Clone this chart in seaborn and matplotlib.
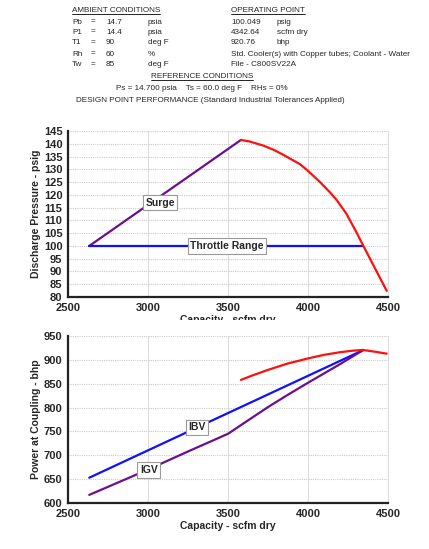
import numpy as np
import pandas as pd
import matplotlib
matplotlib.use("Agg")
import matplotlib.pyplot as plt
import seaborn as sns
from matplotlib.ticker import MultipleLocator
from matplotlib.lines import Line2D
from matplotlib.patches import Rectangle

#Chart data

# top panel - discharge pressure
surge_cap = [2633, 3581]
surge_psig = [100.0, 141.5]
throttle_cap = [2633, 4342]
throttle_psig = [100.0, 100.0]
curve_cap = [3581, 3635, 3720, 3783, 3845, 3950, 4000, 4075, 4137,
             4179, 4240, 4304, 4346, 4429, 4492]
curve_psig = [141.5, 140.9, 139.3, 137.7, 135.7, 132.0, 129.4, 125.0, 121.0,
              118.0, 112.6, 105.2, 100.0, 90.0, 82.4]

# bottom panel - power at coupling
ibv_cap = [2633, 4342]
ibv_bhp = [653, 920]
igv_cap = [2633, 3000, 3250, 3500, 3620, 3750, 3870, 4000, 4200, 4342]
igv_bhp = [617, 670, 708, 745, 772, 801, 826, 852, 891, 920]
red_cap = [3581, 3650, 3750, 3870, 4000, 4100, 4200, 4280, 4342, 4420, 4492]
red_bhp = [858, 867, 879, 892, 903, 910.5, 916, 919.2, 920.8, 917, 913]

x_ticks = [2500, 3000, 3500, 4000, 4500]
top_yticks = list(range(80, 150, 5))
bot_yticks = list(range(600, 1000, 50))

ambient_rows = [
    ("Pb", "14.7", "psia"),
    ("P1", "14.4", "psia"),
    ("T1", "90", "deg F"),
    ("Rh", "60", "%"),
    ("Tw", "85", "deg F"),
]
operating_rows = [
    ("100.049", "psig"),
    ("4342.64", "scfm dry"),
    ("920.76", "bhp"),
    ("Std. Cooler(s) with Copper tubes; Coolant - Water", ""),
    ("File - C800SV22A", ""),
]

PURPLE = "#6b0f8c"
RED = "#ff1010"
BLUE = "#1010ff"

sns.set_style("white")
plt.rcParams["font.family"] = ["Liberation Sans", "DejaVu Sans"]

W, H = 429, 549
fig = plt.figure(figsize=(W / 100, H / 100), dpi=100)


def px(x, y):
    # pixel position (from top-left) -> figure fraction
    return x / W, 1 - y / H


#Header block
hdr_size = 5.9
underline = []
t = fig.text(*px(72, 10), "AMBIENT CONDITIONS", fontsize=hdr_size, va="center")
underline.append(t)
t = fig.text(*px(231, 10), "OPERATING POINT", fontsize=hdr_size, va="center")
underline.append(t)

row_y = [22, 32, 43, 54, 65]
for y, (name, val, unit), (oval, ounit) in zip(row_y, ambient_rows, operating_rows):
    fig.text(*px(72, y), name, fontsize=hdr_size, va="center")
    fig.text(*px(91, y), "=", fontsize=hdr_size, va="center")
    fig.text(*px(106, y), val, fontsize=hdr_size, va="center")
    fig.text(*px(148, y), unit, fontsize=hdr_size, va="center")
    fig.text(*px(231, y), oval, fontsize=hdr_size, va="center")
    if ounit:
        fig.text(*px(277, y), ounit, fontsize=hdr_size, va="center")

t = fig.text(*px(202, 76.5), "REFERENCE CONDITIONS", fontsize=hdr_size, va="center", ha="center")
underline.append(t)
fig.text(*px(202, 88), "Ps = 14.700 psia    Ts = 60.0 deg F    RHs = 0%",
         fontsize=hdr_size, va="center", ha="center")
fig.text(*px(210, 100), "DESIGN POINT PERFORMANCE (Standard Industrial Tolerances Applied)",
         fontsize=hdr_size, va="center", ha="center")

#Axes
ax1 = fig.add_axes([68 / W, 1 - 297 / H, 320 / W, 166 / H])
ax2 = fig.add_axes([68 / W, 1 - 503 / H, 320 / W, 167 / H])

top_df = pd.concat([
    pd.DataFrame({"cap": surge_cap, "val": surge_psig, "line": "surge"}),
    pd.DataFrame({"cap": throttle_cap, "val": throttle_psig, "line": "throttle"}),
    pd.DataFrame({"cap": curve_cap, "val": curve_psig, "line": "curve"}),
])
bot_df = pd.concat([
    pd.DataFrame({"cap": ibv_cap, "val": ibv_bhp, "line": "ibv"}),
    pd.DataFrame({"cap": igv_cap, "val": igv_bhp, "line": "igv"}),
    pd.DataFrame({"cap": red_cap, "val": red_bhp, "line": "red"}),
])

sns.lineplot(data=top_df, x="cap", y="val", hue="line", sort=False, estimator=None,
             palette={"surge": PURPLE, "throttle": BLUE, "curve": RED},
             linewidth=1.6, legend=False, ax=ax1, zorder=3)
sns.lineplot(data=bot_df, x="cap", y="val", hue="line", sort=False, estimator=None,
             palette={"ibv": BLUE, "igv": PURPLE, "red": RED},
             linewidth=1.6, legend=False, ax=ax2, zorder=3)

box = dict(boxstyle="square,pad=0.25", fc="white", ec="#9a9a9a", lw=0.8)
lab_kw = dict(fontsize=7.5, fontweight="bold", ha="center", va="center", bbox=box, zorder=5)
ax1.text(3075, 117, "Surge", **lab_kw)
ax1.text(3493, 100, "Throttle Range", **lab_kw)
ax2.text(3306, 759, "IBV", **lab_kw)
ax2.text(3006, 669, "IGV", **lab_kw)


def style_axis(ax, yticks, yminor):
    ax.set_xlim(2500, 4500)
    ax.set_ylim(yticks[0], yticks[-1])
    ax.set_xticks(x_ticks)
    ax.set_yticks(yticks)
    ax.xaxis.set_minor_locator(MultipleLocator(250))
    ax.yaxis.set_minor_locator(MultipleLocator(yminor))
    ax.tick_params(axis="both", which="major", labelsize=8, length=3, width=1,
                   color="#333333", pad=1)
    ax.tick_params(axis="both", which="minor", length=2, width=1, color="#333333")
    for lbl in ax.get_xticklabels() + ax.get_yticklabels():
        lbl.set_fontweight("bold")
    ax.grid(axis="x", which="major", color="#dddddd", linewidth=0.8, linestyle="-")
    ax.grid(axis="y", which="major", color="#cccccc", linewidth=0.8, linestyle=(0, (1, 1)))
    ax.set_axisbelow(True)
    ax.spines["left"].set_linewidth(1.6)
    ax.spines["bottom"].set_linewidth(1.6)
    ax.spines["left"].set_color("#222222")
    ax.spines["bottom"].set_color("#222222")
    ax.spines["right"].set_color("#dddddd")
    ax.spines["right"].set_linewidth(0.8)
    ax.spines["top"].set_visible(False)


style_axis(ax1, top_yticks, 2.5)
style_axis(ax2, bot_yticks, 25)

ax1.set_ylabel("Discharge Pressure - psig", fontsize=7.5, fontweight="bold", labelpad=2)
ax1.set_xlabel("Capacity - scfm dry", fontsize=7.5, fontweight="bold", labelpad=2)
ax2.set_ylabel("Power at Coupling - bhp", fontsize=7.5, fontweight="bold", labelpad=2)
ax2.set_xlabel("Capacity - scfm dry", fontsize=7.5, fontweight="bold", labelpad=2)

# the top x label is cut off in the original report
fig.add_artist(Rectangle(px(0, 330), 1, 10 / H, transform=fig.transFigure,
                         fc="white", ec="none", zorder=10))

#Underline header titles
fig.canvas.draw()
renderer = fig.canvas.get_renderer()
inv = fig.transFigure.inverted()
for t in underline:
    bb = t.get_window_extent(renderer)
    (x0, y0), (x1, _) = inv.transform([(bb.x0, bb.y0), (bb.x1, bb.y1)])
    fig.add_artist(Line2D([x0, x1], [y0, y0], transform=fig.transFigure,
                          color="black", linewidth=0.6))

fig.savefig("out.png", dpi=100)
